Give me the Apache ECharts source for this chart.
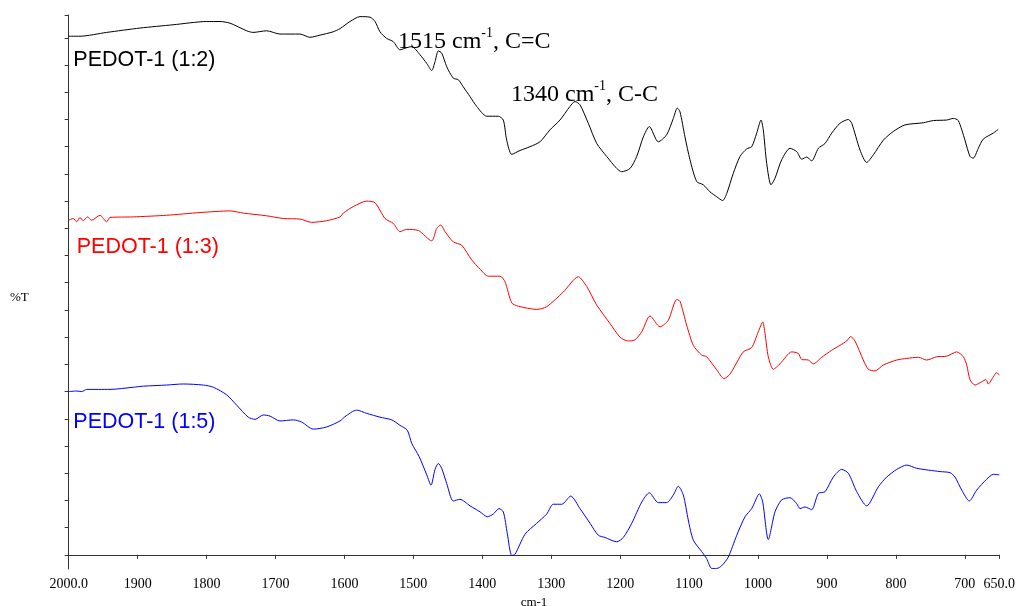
<!DOCTYPE html>
<html>
<head>
<meta charset="utf-8">
<script src="https://cdn.jsdelivr.net/npm/echarts@6/dist/echarts.min.js"></script>
<style>
	html, body { margin: 0; padding: 0; background: #fff; }
	#chart { width: 1016px; height: 606px; }
</style>
</head>
<body>
<div id="chart"></div>
<script>
// FTIR spectra, [wavenumber cm-1, %T] (arbitrary %T units)
var pedot12 = [
	[2000, 95.3], [1983.6, 95.3], [1944.9, 96.0], [1896.6, 96.8], [1848.7, 97.4], [1799.8, 98.0],
	[1780.5, 98.0], [1766.0, 97.7], [1741.8, 96.3], [1732.6, 96.0], [1712.8, 96.3], [1693.5, 95.7],
	[1664.5, 95.7], [1650.0, 95.1], [1635.5, 95.5], [1616.6, 96.1], [1606.4, 96.7], [1591.9, 98.0],
	[1577.4, 98.9], [1562.9, 98.8], [1555.6, 98.0], [1548.4, 96.1], [1538.7, 94.9], [1529.1, 94.3],
	[1519.4, 92.8], [1512.1, 93.1], [1502.4, 93.4], [1490.4, 91.9], [1480.6, 90.3], [1473.4, 89.0],
	[1468.6, 90.6], [1463.8, 92.6], [1458.9, 92.2], [1451.6, 89.7], [1442.1, 87.6], [1434.8, 87.3],
	[1427.6, 86.0], [1417.8, 84.2], [1408.1, 82.4], [1393.6, 80.6], [1376.8, 80.6], [1369.5, 79.9],
	[1364.6, 76.2], [1357.3, 73.6], [1345.3, 74.3], [1330.8, 75.0], [1316.3, 75.9], [1301.8, 78.1],
	[1287.3, 79.9], [1272.8, 82.4], [1265.5, 83.3], [1258.3, 82.7], [1246.2, 79.3], [1234.0, 75.6],
	[1219.5, 73.2], [1205.0, 71.0], [1197.8, 70.4], [1185.7, 71.0], [1176.0, 73.2], [1166.4, 76.8],
	[1157.7, 78.7], [1144.7, 75.9], [1132.5, 77.2], [1122.9, 80.2], [1117.1, 82.1], [1113.2, 81.4],
	[1106.0, 76.8], [1098.7, 72.6], [1089.0, 68.6], [1079.4, 68.0], [1069.7, 66.7], [1059.9, 65.8],
	[1051.3, 65.1], [1045.4, 66.4], [1035.9, 70.1], [1026.2, 73.2], [1016.4, 74.6], [1009.2, 75.0],
	[1001.9, 77.5], [995.7, 79.9], [992.4, 78.1], [987.4, 71.9], [981.2, 68.0], [975.4, 69.2],
	[965.7, 72.6], [953.6, 74.7], [943.9, 74.1], [936.6, 72.7], [929.4, 73.1], [922.2, 72.4],
	[912.5, 74.7], [902.8, 75.6], [893.1, 77.5], [881.1, 79.3], [869.0, 80.0], [864.1, 79.3],
	[852.1, 74.4], [842.4, 72.1], [832.7, 73.5], [818.2, 76.2], [803.8, 77.8], [786.8, 79.0],
	[760.2, 79.4], [745.7, 79.8], [726.3, 79.9], [716.7, 80.2], [709.5, 79.8], [699.8, 76.2],
	[692.5, 73.2], [687.7, 72.9], [680.5, 74.7], [673.2, 76.4], [658.7, 77.5], [651.5, 78.2]
];
var pedot13 = [
	[2000, 61.5], [1993.3, 61.8], [1988.4, 61.2], [1983.6, 62.0], [1978.8, 61.4], [1973.0, 62.1],
	[1966.6, 61.5], [1954.6, 62.4], [1944.9, 61.2], [1940.1, 62.0], [1906.3, 62.1], [1857.8, 62.4],
	[1809.5, 62.9], [1766.0, 63.2], [1746.7, 62.8], [1712.8, 62.3], [1688.7, 61.8], [1664.5, 61.7],
	[1647.5, 61.1], [1625.7, 61.4], [1606.4, 62.1], [1601.6, 62.8], [1587.1, 64.0], [1567.7, 65.0],
	[1555.6, 64.7], [1541.1, 61.8], [1529.1, 60.9], [1519.4, 59.4], [1509.7, 59.8], [1492.8, 59.6],
	[1473.4, 57.7], [1466.1, 60.0], [1460.3, 60.6], [1454.1, 59.4], [1442.1, 57.5], [1429.9, 56.9],
	[1415.4, 54.2], [1403.3, 52.5], [1391.3, 51.2], [1374.3, 51.2], [1367.1, 50.2], [1357.3, 46.3],
	[1347.8, 45.7], [1321.1, 45.1], [1306.6, 45.6], [1282.5, 48.3], [1260.7, 51.1], [1248.5, 49.3],
	[1234.0, 45.9], [1214.7, 42.5], [1200.2, 40.0], [1188.2, 39.3], [1178.5, 39.5], [1168.7, 41.0],
	[1156.7, 43.9], [1142.2, 41.9], [1130.2, 43.1], [1118.0, 46.9], [1113.2, 46.6], [1103.5, 42.2],
	[1093.9, 38.5], [1081.7, 36.7], [1074.5, 36.4], [1060.0, 34.0], [1049.4, 32.4], [1040.7, 33.2],
	[1021.4, 37.3], [1009.2, 38.1], [999.6, 41.0], [993.2, 42.8], [989.9, 40.7], [985.1, 36.4],
	[977.8, 34.1], [968.1, 35.1], [951.1, 37.3], [941.6, 37.0], [936.6, 35.9], [927.1, 35.8],
	[919.8, 35.1], [907.6, 36.3], [893.1, 37.6], [881.1, 38.5], [871.4, 39.3], [865.6, 40.1],
	[859.4, 39.3], [847.3, 35.8], [840.0, 34.1], [830.3, 33.8], [818.2, 34.9], [798.8, 35.8],
	[784.3, 36.1], [767.5, 36.3], [755.3, 35.8], [740.8, 36.4], [726.3, 36.5], [711.8, 37.3],
	[702.2, 36.4], [697.3, 34.9], [692.5, 32.2], [685.3, 31.2], [675.5, 31.8], [669.3, 32.2],
	[666.0, 31.4], [658.7, 32.7], [653.8, 33.5], [650, 33.0]
];
var pedot15 = [
	[2000, 30.0], [1988.4, 30.1], [1981.1, 30.0], [1973.9, 30.4], [1940.1, 30.4], [1906.3, 30.8],
	[1891.8, 31.0], [1857.8, 31.2], [1833.8, 31.4], [1804.7, 31.2], [1790.2, 30.8], [1770.8, 29.4],
	[1756.3, 27.5], [1739.5, 25.3], [1729.7, 24.9], [1717.7, 25.7], [1708.0, 25.5], [1693.5, 24.6],
	[1674.2, 24.8], [1662.0, 24.4], [1645.2, 23.1], [1625.7, 23.5], [1606.4, 24.6], [1599.2, 25.4],
	[1582.2, 26.6], [1567.7, 26.0], [1548.4, 25.3], [1531.4, 24.8], [1519.4, 23.8], [1508.8, 22.9],
	[1502.4, 20.5], [1491.4, 18.0], [1480.6, 14.7], [1474.4, 12.8], [1468.6, 15.7], [1463.8, 16.8],
	[1458.9, 15.9], [1451.6, 13.1], [1442.1, 9.9], [1432.4, 10.2], [1417.8, 9.0], [1403.3, 7.9],
	[1392.7, 7.0], [1384.0, 7.5], [1375.8, 8.5], [1369.5, 7.9], [1363.7, 3.9], [1357.3, -0.1],
	[1352.5, 0.1], [1338.0, 3.8], [1321.1, 5.8], [1306.6, 7.5], [1297.0, 9.3], [1284.8, 9.3],
	[1271.7, 10.8], [1258.3, 8.5], [1243.7, 5.8], [1231.7, 3.6], [1222.0, 3.2], [1205.0, 2.4],
	[1195.4, 3.2], [1183.2, 5.8], [1168.7, 9.7], [1157.7, 11.4], [1144.7, 9.6], [1132.5, 9.6],
	[1122.9, 11.0], [1115.7, 12.6], [1108.4, 11.0], [1101.2, 6.4], [1093.9, 2.7], [1081.7, 0.6],
	[1074.5, -0.7], [1067.2, -2.5], [1059.9, -2.5], [1052.7, -2.0], [1043.1, -0.4], [1030.9, 3.6],
	[1018.9, 7.0], [1009.2, 8.5], [998.1, 11.2], [993.2, 9.7], [985.1, 2.8], [975.4, 7.9],
	[965.7, 10.1], [953.6, 10.5], [943.9, 9.4], [939.1, 8.5], [931.8, 8.8], [922.2, 8.3],
	[912.5, 11.3], [902.8, 11.6], [890.8, 14.3], [878.6, 15.7], [869.0, 15.0], [856.8, 11.6],
	[842.4, 9.0], [825.5, 12.5], [813.3, 14.3], [798.8, 15.7], [784.3, 16.5], [769.8, 15.9],
	[736.0, 15.3], [721.5, 15.1], [714.3, 14.3], [704.5, 11.9], [693.5, 9.9], [682.8, 11.9],
	[668.3, 13.9], [658.7, 14.8], [650, 14.7]
];

var seriesNames = ['PEDOT-1 (1:2)', 'PEDOT-1 (1:3)', 'PEDOT-1 (1:5)'];
var seriesColors = ['#000000', '#ff0000', '#0000ff'];
var xTicks = [2000, 1900, 1800, 1700, 1600, 1500, 1400, 1300, 1200, 1100, 1000, 900, 800, 700, 650];
var yTicks = [0, 5, 10, 15, 20, 25, 30, 35, 40, 45, 50, 55, 60, 65, 70, 75, 80, 85, 90, 95, 99.2];

var chartDom = document.getElementById('chart');
var myChart = echarts.init(chartDom);

var serif = '"Liberation Serif", "Times New Roman", serif';
var sans = '"Liberation Sans", Arial, sans-serif';

var annoRich = {
	a: { fontFamily: serif, fontSize: 24, color: '#000', lineHeight: 28, verticalAlign: 'bottom' },
	s: { fontFamily: serif, fontSize: 14, color: '#000', lineHeight: 28, verticalAlign: 'top' }
};

var option = {
	animation: false,
	grid: {
		left: 68.7,
		right: 16.7,
		top: 15,
		bottom: 37,
		outerBoundsMode: 'none'
	},
	xAxis: {
		type: 'value',
		inverse: true,
		min: 650,
		max: 2000,
		name: 'cm-1',
		nameLocation: 'middle',
		nameGap: 25,
		nameTextStyle: { fontFamily: serif, fontSize: 13, color: '#000' },
		axisLine: { lineStyle: { color: '#333', width: 1 } },
		axisTick: { show: true, length: 4, lineStyle: { color: '#333' }, customValues: xTicks },
		axisLabel: {
			customValues: xTicks,
			fontFamily: serif,
			fontSize: 14,
			color: '#000',
			margin: 8,
			formatter: function (v) {
				return (v === 2000 || v === 650) ? v.toFixed(1) : String(v);
			}
		},
		splitLine: { show: false }
	},
	yAxis: {
		type: 'value',
		min: -2.6,
		max: 99.2,
		axisLine: { show: true, lineStyle: { color: '#333', width: 1 } },
		axisTick: { show: true, length: 4, lineStyle: { color: '#333' }, customValues: yTicks },
		axisLabel: { show: false },
		splitLine: { show: false }
	},
	series: [pedot12, pedot13, pedot15].map(function (d, i) {
		return {
			name: seriesNames[i],
			type: 'line',
			data: d,
			showSymbol: false,
			smooth: 0.25,
			lineStyle: { color: seriesColors[i], width: 1 },
			itemStyle: { color: seriesColors[i] }
		};
	}),
	graphic: [
		{ type: 'text', left: 10, top: 291, style: { text: '%T', font: '13px ' + serif, fill: '#000' } },
		{ type: 'text', x: 73.3, y: 60, style: { text: seriesNames[0], font: '21.5px ' + sans, fill: '#000', textVerticalAlign: 'middle' } },
		{ type: 'text', x: 76.7, y: 246.7, style: { text: seriesNames[1], font: '21.5px ' + sans, fill: '#ff0000', textVerticalAlign: 'middle' } },
		{ type: 'text', x: 73.3, y: 421.7, style: { text: seriesNames[2], font: '21.5px ' + sans, fill: '#0000ff', textVerticalAlign: 'middle' } },
		{ type: 'text', x: 398, y: 26, style: { text: '{a|1515 cm}{s|-1}{a|, C=C}', rich: annoRich } },
		{ type: 'text', x: 511, y: 79, style: { text: '{a|1340 cm}{s|-1}{a|, C-C}', rich: annoRich } }
	]
};

myChart.setOption(option);
</script>
</body>
</html>
